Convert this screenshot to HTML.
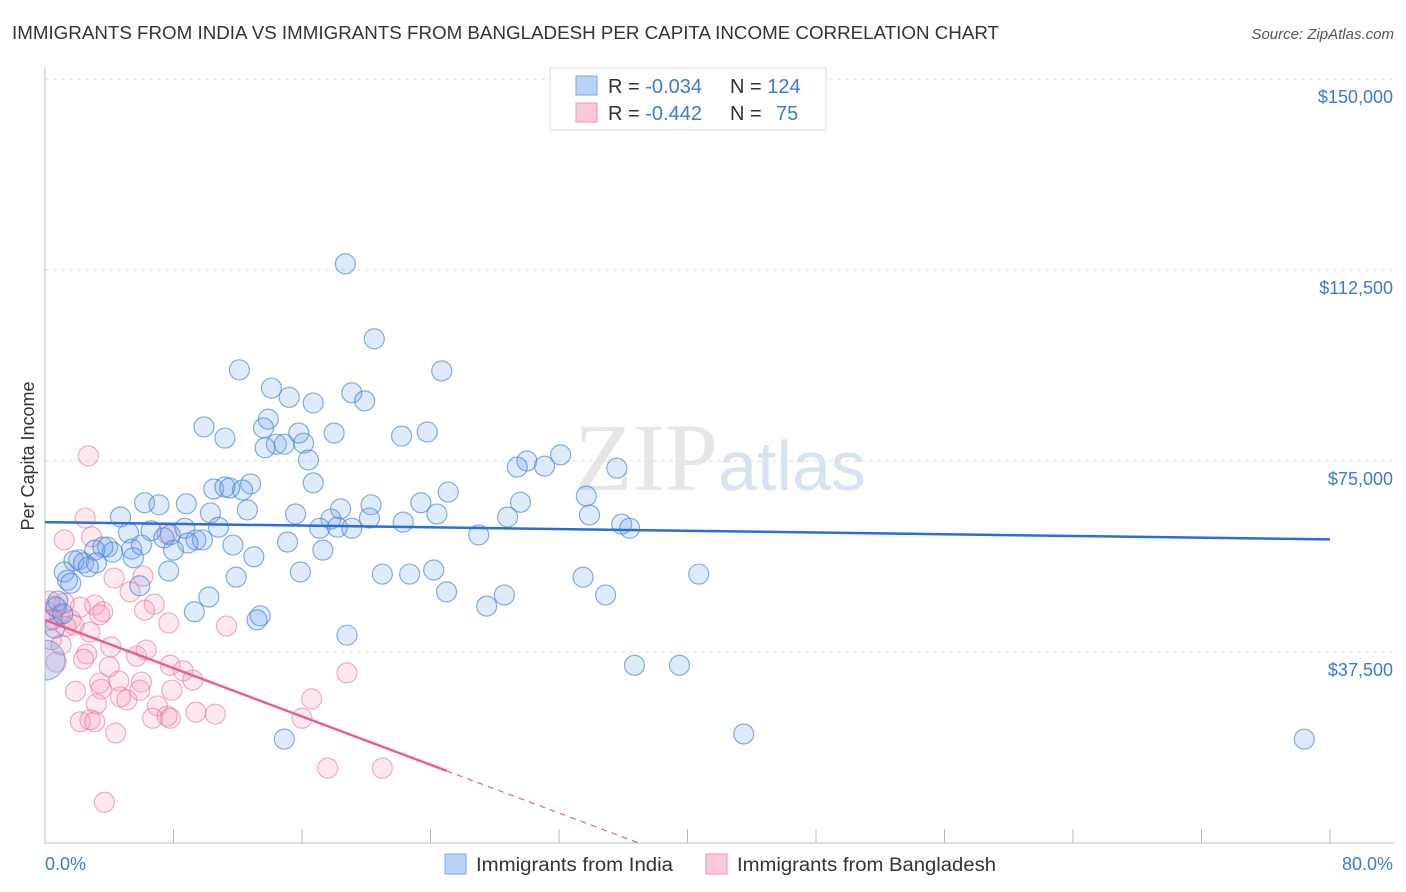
<!DOCTYPE html>
<html><head><meta charset="utf-8"><style>
body{margin:0;background:#fff;font-family:"Liberation Sans",sans-serif;}
svg{display:block}
</style></head><body>
<svg id="chart" width="1406" height="892" xmlns="http://www.w3.org/2000/svg">
<defs><clipPath id="plotclip"><rect x="45" y="60" width="1360" height="783"/></clipPath></defs>
<text x="12" y="39" font-size="18" fill="#333" textLength="987" lengthAdjust="spacingAndGlyphs">IMMIGRANTS FROM INDIA VS IMMIGRANTS FROM BANGLADESH PER CAPITA INCOME CORRELATION CHART</text>
<text x="1394" y="39" font-size="15" fill="#555" font-style="italic" text-anchor="end">Source: ZipAtlas.com</text>
<text x="720" y="490" font-size="96" fill="#e6e6e6" text-anchor="middle" font-family="Liberation Serif,serif">ZIP<tspan fill="#d5e3f3" font-family="Liberation Sans,sans-serif" font-size="70">atlas</tspan></text>
<g id="grid"></g>
<g id="axes"></g>
<g id="pts" clip-path="url(#plotclip)"></g>
<g id="lines"></g>
<text x="34" y="456" font-size="18" fill="#333" text-anchor="middle" transform="rotate(-90 34 456)">Per Capita Income</text>
<g>
<rect x="550" y="68" width="276" height="62" fill="#fff" stroke="#ddd"/>
<rect x="576" y="76" width="21" height="19" fill="#b9d3f5" stroke="#7aa6e6"/>
<rect x="576" y="103" width="21" height="19" fill="#fcc7d6" stroke="#eb97b2"/>
<text x="608" y="93" font-size="20" fill="#333">R = <tspan fill="#3b7bd6">-0.034</tspan><tspan x="730">N = </tspan><tspan fill="#3b7bd6">124</tspan></text>
<text x="608" y="120" font-size="20" fill="#333">R = <tspan fill="#3b7bd6">-0.442</tspan><tspan x="730">N = </tspan><tspan fill="#3b7bd6" x="776">75</tspan></text>
</g>
<g>
<rect x="445" y="854" width="21" height="20" fill="#b9d3f5" stroke="#7aa6e6"/>
<text x="476" y="871" font-size="19" fill="#333" textLength="197" lengthAdjust="spacingAndGlyphs">Immigrants from India</text>
<rect x="706" y="854" width="21" height="20" fill="#fcc7d6" stroke="#eb97b2"/>
<text x="737" y="871" font-size="19" fill="#333" textLength="259" lengthAdjust="spacingAndGlyphs">Immigrants from Bangladesh</text>
</g>
</svg>
<script>
const yTicks=[37.5,75,112.5,150];
const yTickLabels=["$37,500","$75,000","$112,500","$150,000"];
const xTicks=[0,8,16,24,32,40,48,56,64,72,80];
const xEndLabels=["0.0%","80.0%"];
const indiaX=[18.7,20.5,24.7,12.1,14.1,19.1,15.2,19.9,16.7,13.9,9.9,13.6,11.2,15.8,18.0,22.2,23.8,14.4,14.9,16.1,13.7,16.4,32.1,30.0,31.1,29.4,35.6,16.7,12.8,10.5,11.2,11.5,12.3,25.1,33.7,29.6,6.2,7.1,8.8,23.4,20.3,18.4,12.6,10.3,15.6,24.4,28.8,33.9,4.7,17.8,20.2,22.3,35.9,36.4,10.8,17.1,18.2,19.1,8.7,5.2,6.6,7.8,27.0,7.4,9.4,9.8,8.9,15.1,11.7,3.9,3.1,3.6,5.4,6.0,8.0,17.3,4.2,13.0,5.5,2.1,1.8,2.4,3.2,2.7,1.2,7.7,15.9,21.0,22.7,24.2,33.5,40.7,11.9,1.4,1.6,5.9,25.0,34.9,10.2,28.6,27.5,9.3,13.4,13.2,0.7,0.6,18.8,36.7,39.5,14.9,43.5,78.4,0.8,1.1];
const indiaY=[113.7,99.0,92.7,92.9,89.3,88.4,87.5,86.8,86.4,83.2,81.7,81.5,79.5,80.5,80.5,79.9,80.7,78.3,78.3,78.5,77.6,75.2,76.2,75.0,74.0,73.8,73.6,70.7,70.5,69.5,69.9,69.7,69.3,68.9,68.1,66.9,66.8,66.4,66.6,66.8,66.4,65.6,65.4,64.8,64.6,64.6,64.0,64.4,64.0,63.6,63.8,63.0,62.6,61.8,62.0,61.8,62.0,61.8,61.8,60.9,61.3,60.5,60.5,59.9,59.5,59.5,58.9,59.1,58.5,58.1,57.5,58.1,57.7,58.5,57.5,57.5,57.1,56.2,56.0,55.6,55.4,55.0,55.0,54.2,53.2,53.4,53.2,52.8,52.8,53.6,52.2,52.8,52.2,51.6,51.0,50.5,49.3,48.7,48.3,48.7,46.5,45.4,44.6,43.8,46.3,42.2,40.8,34.9,34.9,20.4,21.4,20.4,47.5,45.0];
const indiaBig=[[0.0,35.9]];
const bangX=[2.7,2.5,2.9,1.2,4.3,6.1,7.6,5.3,6.8,3.1,3.6,3.4,2.2,1.2,0.6,0.9,1.6,1.8,2.8,7.7,11.3,6.2,0.4,1.0,4.1,6.3,5.7,2.6,2.4,0.7,4.0,7.8,8.6,9.2,18.8,3.4,4.6,6.0,1.9,3.5,5.9,7.9,4.7,5.1,3.2,16.6,7.0,9.4,10.6,7.6,6.7,7.8,16.0,2.2,2.8,3.1,4.4,17.6,21.0,3.7,0.4,0.1,0.5,1.3,0.3];
const bangY=[76.0,63.8,60.1,59.5,52.0,52.4,60.7,49.3,46.9,46.7,45.4,44.8,46.3,47.1,46.5,44.8,43.8,42.8,41.4,43.2,42.6,45.7,39.9,38.9,38.5,37.9,36.7,37.1,36.1,35.5,34.6,34.9,33.8,32.0,33.4,31.4,31.8,31.6,29.8,30.2,30.0,30.0,28.7,28.1,27.3,28.3,26.9,25.7,25.3,24.9,24.5,24.5,24.5,23.8,24.2,23.8,21.6,14.7,14.7,8.0,43.8,45.4,44.0,42.5,47.5];
const indiaTrend=[63.0,59.6];      // value at x=0 and x=80
const bangTrend=[43.8,-1.185];     // intercept, slope per %
const bangSolidEnd=25.0;

const X0=45,X1=1330,YB=843,YS=191/37.5;
const sx=v=>X0+(v/80)*(X1-X0);
const sy=v=>YB-v*YS;
const NS="http://www.w3.org/2000/svg";
function mk(tag,attrs,parent){const e=document.createElementNS(NS,tag);for(const k in attrs)e.setAttribute(k,attrs[k]);document.getElementById(parent).appendChild(e);return e;}

yTicks.forEach((t,i)=>{
 const l=mk('line',{x1:X0,x2:1394,y1:sy(t),y2:sy(t),stroke:'#ddd','stroke-dasharray':'4,4'},'grid');
 
 
 const tx=mk('text',{x:1393,y:sy(t)+24,'font-size':18,fill:'#3b7bd6','text-anchor':'end'},'axes');
 tx.textContent=yTickLabels[i];
 
 
});
const ya=mk('line',{x1:X0,x2:X0,y1:68,y2:YB,stroke:'#bbb'},'axes');


const xa=mk('line',{x1:X0,x2:1394,y1:YB,y2:YB,stroke:'#bbb'},'axes');


xTicks.forEach(t=>{
 const l=mk('line',{x1:sx(t),x2:sx(t),y1:YB,y2:YB-14,stroke:'#bbb'},'axes');
 
 
});
const xl0=mk('text',{x:45,y:870,'font-size':18,fill:'#3b7bd6'},'axes');xl0.textContent=xEndLabels[0];


const xl1=mk('text',{x:1393,y:870,'font-size':18,fill:'#3b7bd6','text-anchor':'end'},'axes');xl1.textContent=xEndLabels[1];



bangX.forEach((x,i)=>{
 const c=mk('circle',{cx:sx(x),cy:sy(bangY[i]),r:10,fill:'rgba(244,150,180,0.22)',stroke:'rgba(232,120,160,0.6)','stroke-width':1.2},'pts');
 
 
});
indiaX.forEach((x,i)=>{
 const c=mk('circle',{cx:sx(x),cy:sy(indiaY[i]),r:10,fill:'rgba(110,160,230,0.22)',stroke:'rgba(70,130,215,0.65)','stroke-width':1.2},'pts');
 
 
});
indiaBig.forEach(p=>{
 const c=mk('circle',{cx:sx(p[0]),cy:sy(p[1]),r:20,fill:'rgba(110,160,230,0.3)',stroke:'rgba(70,130,215,0.5)','stroke-width':1.2},'pts');
 
 
});

const bl=mk('line',{x1:sx(0),y1:sy(indiaTrend[0]),x2:sx(80),y2:sy(indiaTrend[1]),stroke:'#2a6fd4','stroke-width':2.5},'lines');


const by=x=>bangTrend[0]+bangTrend[1]*x;
const zeroX=-bangTrend[0]/bangTrend[1];
const pl=mk('line',{x1:sx(0),y1:sy(by(0)),x2:sx(bangSolidEnd),y2:sy(by(bangSolidEnd)),stroke:'#e8608e','stroke-width':2.5},'lines');


const pd=mk('line',{x1:sx(bangSolidEnd),y1:sy(by(bangSolidEnd)),x2:sx(zeroX),y2:sy(0),stroke:'#e8608e','stroke-width':1.2,'stroke-dasharray':'6,5'},'lines');


</script>
</body></html>
